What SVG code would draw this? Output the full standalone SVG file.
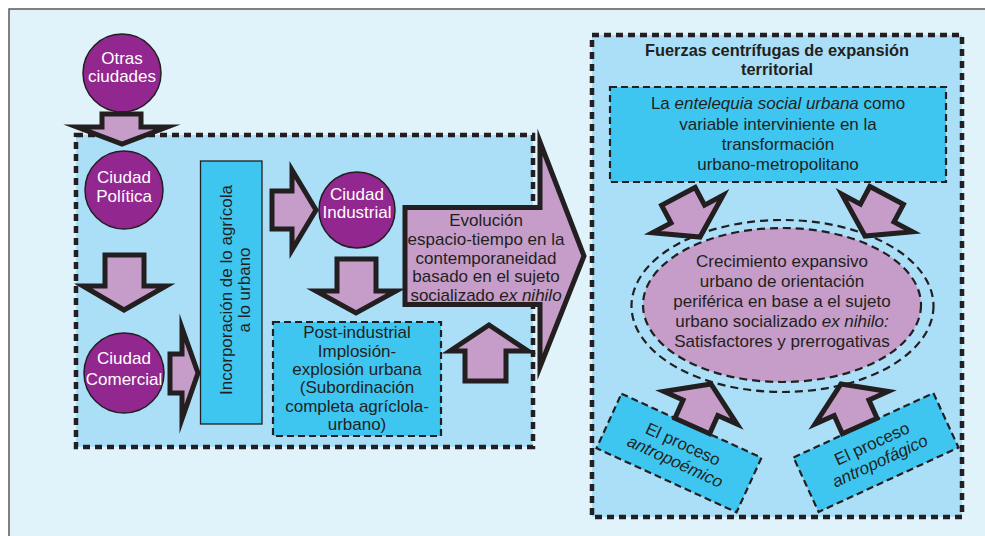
<svg xmlns="http://www.w3.org/2000/svg" width="985" height="536" viewBox="0 0 985 536">
<style>
.t{font-family:"Liberation Sans",Arial,sans-serif;font-size:17px;fill:#231f20;text-anchor:middle}
.w{fill:#ffffff}
.b{font-weight:bold;font-size:16.4px}
.i{font-style:italic}
.circ{fill:#92278f;stroke:#231f20;stroke-width:1.5}
.arr{fill:#c59dc8;stroke:#231f20;stroke-width:5;stroke-linejoin:miter;stroke-miterlimit:10}
.cont{fill:#abdff8;stroke:#231f20;stroke-width:4.5;stroke-dasharray:7 5}
.cyan{fill:#3ec6f1;stroke:#231f20;stroke-width:2.2;stroke-dasharray:7 4}
.ell{fill:none;stroke:#231f20;stroke-width:2.2;stroke-dasharray:8 5}
</style>
<defs>
<polygon id="sarr" points="-46,-19 -26,-19 -26,-40 0,0 -26,40 -26,19 -46,19"/>
</defs>
<rect x="0" y="0" width="985" height="536" fill="#ffffff"/>
<rect x="9" y="9" width="990" height="540" fill="#e0f3fb" stroke="#5a5a5a" stroke-width="1.5"/>

<g id="containers">
<rect id="left-box" class="cont" x="76" y="135" width="457" height="312"/>
<g id="right-panel">
<rect class="cont" x="592" y="35" width="370" height="482"/>
<text class="t b" x="777" y="56">Fuerzas centrífugas de expansión</text>
<text class="t b" x="777" y="75">territorial</text>
</g>
</g>

<g id="n-otras">
<circle class="circ" cx="122" cy="73" r="39"/>
<text class="t w" x="122" y="64">Otras</text>
<text class="t w" x="122" y="82">ciudades</text>
</g>
<g id="n-politica">
<circle class="circ" cx="124" cy="190" r="39"/>
<text class="t w" x="124" y="183">Ciudad</text>
<text class="t w" x="124" y="202">Política</text>
</g>
<g id="n-comercial">
<circle class="circ" cx="124" cy="373" r="40"/>
<text class="t w" x="124" y="364">Ciudad</text>
<text class="t w" x="124" y="385">Comercial</text>
</g>
<g id="n-incorporacion">
<rect x="200.5" y="161" width="61.5" height="263" fill="#3ec6f1" stroke="#231f20" stroke-width="1.3"/>
<g transform="translate(231,290) rotate(-90)">
<text class="t" x="0" y="1">Incorporación de lo agrícola</text>
<text class="t" x="0" y="19">a lo urbano</text>
</g>
</g>
<g id="n-industrial">
<circle class="circ" cx="357" cy="210" r="38"/>
<text class="t w" x="357" y="200">Ciudad</text>
<text class="t w" x="357" y="218">Industrial</text>
</g>
<g id="n-postindustrial">
<rect class="cyan" x="273" y="322" width="168" height="114"/>
<text class="t" x="357" y="338">Post-industrial</text>
<text class="t" x="357" y="357">Implosión-</text>
<text class="t" x="357" y="375">explosión urbana</text>
<text class="t" x="357" y="393">(Subordinación</text>
<text class="t" x="357" y="412">completa agríclola-</text>
<text class="t" x="357" y="430">urbano)</text>
</g>
<g id="n-evolucion">
<polygon class="arr" points="405,207.5 540,207.5 540,142 584,256 540,367 540,304.5 405,304.5"/>
<text class="t" x="486" y="226">Evolución</text>
<text class="t" x="486" y="245">espacio-tiempo en la</text>
<text class="t" x="486" y="263.5">contemporaneidad</text>
<text class="t" x="486" y="282">basado en el sujeto</text>
<text class="t" x="486" y="300.5">socializado <tspan class="i">ex nihilo</tspan></text>
</g>

<g id="n-entelequia">
<rect class="cyan" x="610" y="87" width="336" height="95"/>
<text class="t" x="778" y="109">La <tspan class="i">entelequia social urbana</tspan> como</text>
<text class="t" x="778" y="130">variable interviniente en la</text>
<text class="t" x="778" y="150">transformación</text>
<text class="t" x="778" y="170">urbano-metropolitano</text>
</g>
<g id="n-crecimiento">
<ellipse class="ell" cx="782.5" cy="306" rx="151" ry="86"/>
<ellipse cx="782" cy="305" rx="139" ry="77" fill="#c59dc8" stroke="#231f20" stroke-width="2.2" stroke-dasharray="8 5"/>
<text class="t" x="782" y="267">Crecimiento expansivo</text>
<text class="t" x="782" y="287">urbano de orientación</text>
<text class="t" x="782" y="307">periférica en base a el sujeto</text>
<text class="t" x="782" y="327">urbano socializado <tspan class="i">ex nihilo:</tspan></text>
<text class="t" x="782" y="347">Satisfactores y prerrogativas</text>
</g>
<g id="n-antropoemico" transform="translate(679,453) rotate(24.6)">
<rect class="cyan" x="-77" y="-30" width="154" height="60"/>
<text class="t" x="0" y="-4">El proceso</text>
<text class="t i" x="0" y="15">antropoémico</text>
</g>
<g id="n-antropofagico" transform="translate(876,452.5) rotate(-24.7)">
<rect class="cyan" x="-77" y="-30" width="154" height="60"/>
<text class="t" x="0" y="-4">El proceso</text>
<text class="t i" x="0" y="15">antropofágico</text>
</g>

<g id="connectors">
<polygon class="arr" points="102,114 141,114 141,127 167,127 122,144 77,127 102,127"/>
<polygon class="arr" points="105,255 144,255 144,286 166,286 124,310 83,286 105,286"/>
<polygon class="arr" points="170,354 182,354 182,328 198,373 182,419 182,393 170,393"/>
<polygon class="arr" points="272,191 292,191 292,170 316,210 292,250 292,229 272,229"/>
<polygon class="arr" points="337,259 376,259 376,291 396,291 356,313 316,291 337,291"/>
<polygon class="arr" points="465,381 465,351 450,351 489,325 528,351 506,351 506,381"/>
<use href="#sarr" class="arr" transform="translate(700,237) rotate(62)"/>
<use href="#sarr" class="arr" transform="translate(865,236) rotate(118)"/>
<use href="#sarr" class="arr" transform="translate(711,384) rotate(-66)"/>
<use href="#sarr" class="arr" transform="translate(841,384) rotate(-114)"/>
</g>
</svg>
